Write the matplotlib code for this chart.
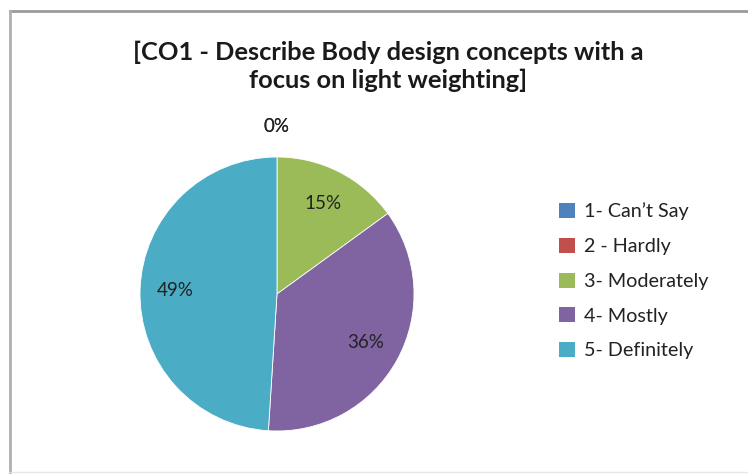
import matplotlib.pyplot as plt
from matplotlib.lines import Line2D
from matplotlib.patches import Patch
import numpy as np

# survey answers for CO1
labels = ["1- Can\u2019t Say", "2 - Hardly", "3- Moderately", "4- Mostly", "5- Definitely"]
shares = [0, 0, 15, 36, 49]
colors = ["#4F81BD", "#C0504D", "#9BBB59", "#8064A2", "#4BACC6"]
title = "[CO1 - Describe Body design concepts with a\nfocus on light weighting]"

plt.rcParams['font.family'] = ['Lato', 'DejaVu Sans']

W, H = 748, 476
fig = plt.figure(figsize=(W / 100, H / 100), dpi=100)
fig.patch.set_facecolor('white')

# pie centred near (277, 294) px, radius ~137 px
r = 137
ax = fig.add_axes([(277 - r) / W, (H - 294 - r) / H, 2 * r / W, 2 * r / H])
wedges, texts, autotexts = ax.pie(
    shares, colors=colors, startangle=90, counterclock=False,
    autopct='%1.0f%%', pctdistance=0.74,
    wedgeprops=dict(linewidth=0.6, edgecolor='white'),
    textprops=dict(fontsize=13.5, color='#222222'))
ax.set_xlim(-1, 1)
ax.set_ylim(-1, 1)
ax.set_aspect('auto')

# zero-sized slices get their label just outside the rim
for w, t, v in zip(wedges, autotexts, shares):
    if v == 0:
        ang = np.deg2rad(w.theta1)
        t.set_position((1.22 * np.cos(ang), 1.22 * np.sin(ang)))

fig.text(388 / W, 1 - 66.5 / H, title, ha='center', va='center',
         fontsize=18.3, fontweight='bold', color='#1a1a1a', linespacing=1.25)

handles = [Patch(facecolor=c, edgecolor='none') for c in colors]
fig.legend(handles, labels, loc='center left', bbox_to_anchor=(541 / W, 1 - 281 / H),
           frameon=False, fontsize=14.2, handlelength=0.8, handleheight=0.8,
           handletextpad=0.5, labelspacing=0.88, labelcolor='#222222')

# chart border (top and left visible, faint bottom)
fig.add_artist(Line2D([10 / W, 1], [1 - 11 / H, 1 - 11 / H], color='#9a9a9a', lw=2))
fig.add_artist(Line2D([10 / W, 10 / W], [1 - 11 / H, 4 / H], color='#b0b0b0', lw=2))
fig.add_artist(Line2D([10 / W, 1], [4 / H, 4 / H], color='#e6e6e6', lw=1))

fig.savefig('out.png', dpi=100)
